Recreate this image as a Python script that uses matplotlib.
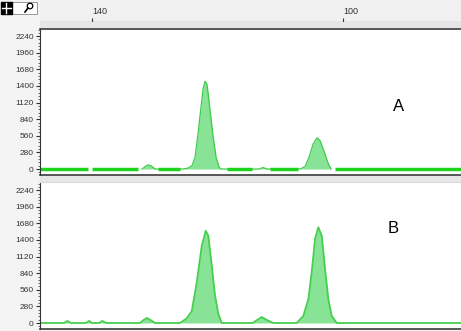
import matplotlib
matplotlib.use("Agg")
import matplotlib.pyplot as plt
import numpy as np
from matplotlib.patches import Rectangle, Circle
from matplotlib.lines import Line2D
from matplotlib.ticker import FixedLocator, AutoMinorLocator

plt.rcParams.update({"font.family": ["Liberation Sans", "DejaVu Sans"]})

# ---------------------------------------------------------------------------
# Data (x in ruler units, y in signal counts)
# ---------------------------------------------------------------------------
x_range = (148.3, 81.2)
ruler_ticks = [140, 100]
ruler_labels = ["140", "100"]
y_ticks = [0, 280, 560, 840, 1120, 1400, 1680, 1960, 2240]

a_x = [148.3, 132.03, 131.55, 131.08, 130.60, 129.96, 125.50, 124.70, 124.06,
       123.59, 123.11, 122.63, 122.31, 121.99, 121.67, 121.20, 120.72, 120.24,
       119.76, 119.44, 113.39, 112.75, 112.11, 106.85, 106.06, 105.42, 104.78,
       104.14, 103.67, 103.03, 102.39, 101.91, 81.2]
a_y = [0, 0, 40, 70, 55, 0, 0, 15, 60,
       200, 600, 1050, 1350, 1480, 1420, 1000, 550, 200,
       30, 0, 0, 25, 0, 0, 40, 200, 420,
       525, 480, 300, 100, 0, 0]
# stretches where trace A's thick baseline is drawn
a_baseline = [(148.3, 140.64), (140.0, 132.67), (129.48, 125.98),
              (118.49, 114.50), (111.63, 107.17), (101.27, 81.2)]

b_x = [148.3, 144.46, 143.94, 143.35, 140.96, 140.48, 140.0, 138.88, 138.36,
       137.77, 132.35, 131.87, 131.28, 130.60, 129.96, 125.98, 124.91, 124.11,
       123.31, 122.52, 121.88, 121.47, 120.92, 120.40, 119.87, 119.33, 114.39,
       113.71, 112.96, 112.11, 111.11, 107.38, 106.33, 105.53, 104.99, 104.46,
       103.94, 103.39, 102.87, 102.34, 101.80, 101.00, 81.2]
b_y = [0, 0, 35, 0, 0, 35, 0, 0, 35,
       0, 0, 45, 85, 45, 0, 0, 80, 200,
       690, 1300, 1555, 1470, 965, 460, 150, 0, 0,
       50, 100, 50, 0, 0, 120, 400, 860, 1420,
       1615, 1470, 910, 400, 120, 0, 0]

FILL = "#88e396"
EDGE = "#3dcc4a"
W, H = 461, 331


def fig_rect(x0, y0, x1, y1):
    """Pixel box (top-left origin) -> figure fraction rect."""
    return [x0 / W, 1 - y1 / H, (x1 - x0) / W, (y1 - y0) / H]


def style_panel(ax, ylim):
    ax.set_xlim(*x_range)
    ax.set_ylim(*ylim)
    ax.set_xticks([])
    ax.yaxis.set_major_locator(FixedLocator(y_ticks))
    ax.yaxis.set_minor_locator(AutoMinorLocator(5))
    ax.set_yticklabels([str(v) for v in y_ticks])
    ax.tick_params(axis="y", which="major", length=3, width=0.8, pad=1.5,
                   labelsize=6, labelcolor="#333333", color="#333333")
    ax.tick_params(axis="y", which="minor", length=1.5, width=0.6, color="#555555")
    ax.spines["right"].set_visible(False)
    ax.spines["left"].set_color("#333333")
    ax.spines["bottom"].set_color("#3a3a3a")
    ax.spines["bottom"].set_linewidth(1.2)


def outline(y):
    y = np.asarray(y, dtype=float)
    keep = np.zeros(len(y), dtype=bool)
    keep |= y > 0
    keep[1:] |= y[:-1] > 0
    keep[:-1] |= y[1:] > 0
    return np.where(keep, y, np.nan)


fig = plt.figure(figsize=(W / 100, H / 100), dpi=100, facecolor="#f4f4f4")

# bevel bands between the ruler and panels
for y0, y1 in [(22, 28), (176, 182)]:
    fig.add_artist(Rectangle((40 / W, 1 - y1 / H), 421 / W, (y1 - y0) / H,
                             transform=fig.transFigure, color="#e6e6e6", lw=0))

# ruler
ax_r = fig.add_axes(fig_rect(40, 0, 461, 22), facecolor="#f0f0f0")
ax_r.set_xlim(*x_range)
ax_r.set_ylim(0, 1)
ax_r.set_yticks([])
ax_r.set_xticks(ruler_ticks)
ax_r.set_xticklabels(ruler_labels)
ax_r.tick_params(axis="x", direction="in", length=3, width=0.8, pad=-11,
                 labelsize=6.5, labelcolor="#333333", color="#333333")
for lab in ax_r.get_xticklabels():
    lab.set_ha("left")
for side in ("top", "left", "right"):
    ax_r.spines[side].set_visible(False)
ax_r.spines["bottom"].set_color("#333333")

# toolbar icons
ax_i = fig.add_axes(fig_rect(0, 0, 40, 22), facecolor="#f0f0f0")
ax_i.set_xlim(0, 40)
ax_i.set_ylim(22, 0)
ax_i.axis("off")
ax_i.add_patch(Rectangle((12, 2), 25, 12, facecolor="white", edgecolor="#888888", lw=0.6))
ax_i.add_patch(Rectangle((0.5, 2), 11, 12, color="black"))
ax_i.add_line(Line2D([6, 6], [3, 13], color="white", lw=1))
ax_i.add_line(Line2D([1.5, 10.5], [8, 8], color="white", lw=1))
ax_i.add_patch(Circle((30, 6), 2.8, fill=False, edgecolor="black", lw=0.9))
ax_i.add_line(Line2D([28, 25], [8, 12], color="black", lw=1.2))

# panel A
ax_a = fig.add_axes(fig_rect(40, 29, 461, 175), facecolor="white")
style_panel(ax_a, (-101, 2361))
ax_a.spines["top"].set_color("#3a3a3a")
ax_a.spines["top"].set_linewidth(1.2)
ax_a.fill_between(a_x, 0, a_y, color=FILL, lw=0)
ax_a.plot(a_x, outline(a_y), color=EDGE, lw=0.9)
ax_a.hlines([0] * len(a_baseline), [s for s, _ in a_baseline],
            [e for _, e in a_baseline], color="#1ed21e", lw=2.5)
ax_a.text(0.852, 0.47, "A", transform=ax_a.transAxes, fontsize=12,
          ha="center", va="center", color="black")

# panel B
ax_b = fig.add_axes(fig_rect(40, 182, 461, 329), facecolor="white")
style_panel(ax_b, (-101, 2378))
ax_b.spines["top"].set_color("#d8d8d8")
ax_b.fill_between(b_x, 0, b_y, color=FILL, lw=0)
ax_b.plot(b_x, b_y, color="#44d04c", lw=1.3)
ax_b.text(0.840, 0.685, "B", transform=ax_b.transAxes, fontsize=12,
          ha="center", va="center", color="black")

fig.savefig("out.png", dpi=100, facecolor=fig.get_facecolor())
